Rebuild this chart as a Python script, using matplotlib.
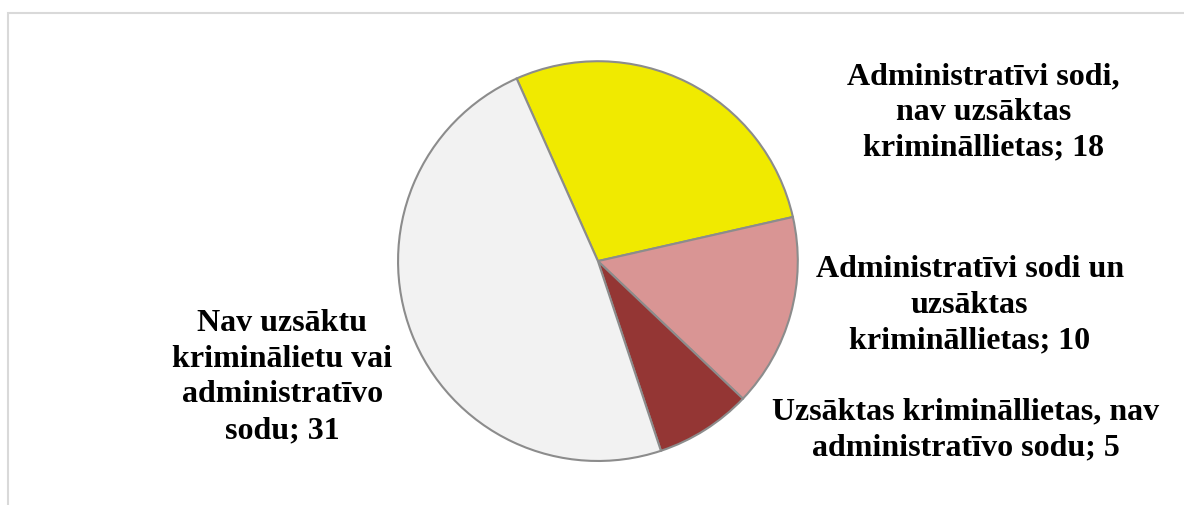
import matplotlib.pyplot as plt
from matplotlib.patches import Rectangle

labels = ["Administratīvi sodi,\nnav uzsāktas\nkrimināllietas",
          "Administratīvi sodi un\nuzsāktas\nkrimināllietas",
          "Uzsāktas krimināllietas, nav\nadministratīvo sodu",
          "Nav uzsāktu\nkriminālietu vai\nadministratīvo\nsodu"]
values = [18, 10, 5, 31]
colors = ["#F0EA00", "#D99594", "#943634", "#F2F2F2"]

# label centres, in pie-radius units
label_pos = [(1.93, 0.75), (1.86, -0.215), (1.84, -0.84), (-1.58, -0.575)]

fig = plt.figure(figsize=(11.84, 5.06), dpi=100)
fig.patches.append(Rectangle((8/1184, -0.1), 1.2, (506-14)/506 + 0.1,
                             transform=fig.transFigure, fill=False,
                             edgecolor="#D9D9D9", linewidth=1.5))

ax = fig.add_axes([0.505 - 0.169, 0.482 - 0.395, 0.338, 0.79])
ax.pie(values, colors=colors, startangle=114, counterclock=False,
       radius=1.0, wedgeprops=dict(edgecolor="#8C8C8C", linewidth=1.5))
ax.set_xlim(-1, 1)
ax.set_ylim(-1, 1)
ax.set_aspect("equal")
ax.axis("off")

for lab, v, (x, y) in zip(labels, values, label_pos):
    ax.text(x, y, f"{lab}; {v}", ha="center", va="center",
            fontfamily="Liberation Serif", fontweight="bold", fontsize=23,
            linespacing=1.3, clip_on=False)

plt.savefig("out.png", dpi=100)
